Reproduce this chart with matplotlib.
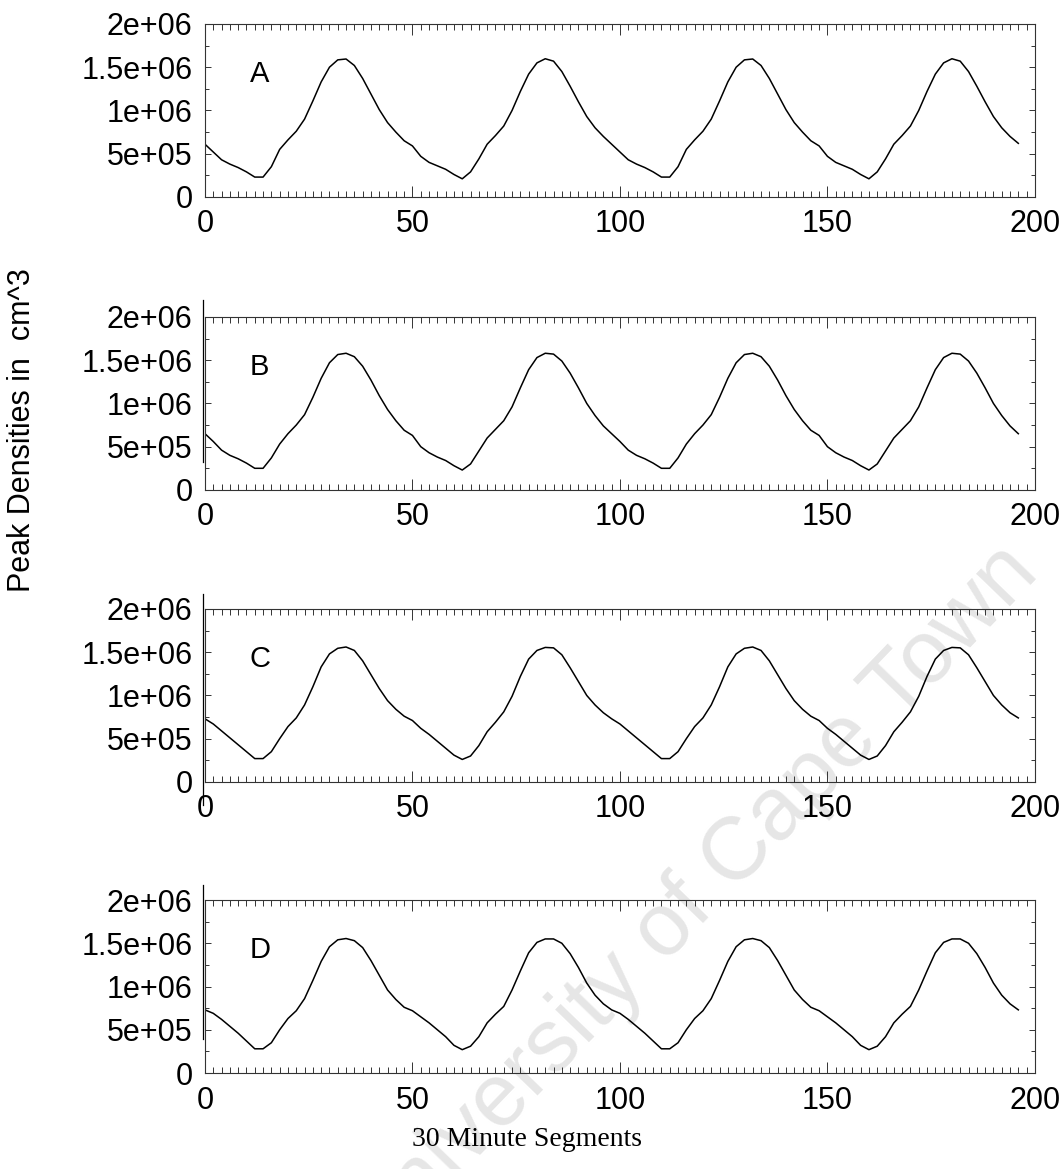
import numpy as np
import matplotlib
matplotlib.use('Agg')
import matplotlib.pyplot as plt
from matplotlib.ticker import MultipleLocator, FuncFormatter
from matplotlib.lines import Line2D

# 30 minute segments, sampled every 2nd segment (0 .. 196)
segments = np.arange(0, 197, 2)

# peak densities, in units of 1e6 per cm^3
panel_a = [0.61, 0.52, 0.43, 0.38, 0.34, 0.29, 0.23,
           0.23, 0.35, 0.55, 0.66, 0.76, 0.90, 1.11, 1.33, 1.50, 1.585, 1.595, 1.52,
           1.37, 1.19, 1.01, 0.86, 0.75, 0.65, 0.59, 0.47, 0.40, 0.36, 0.32, 0.26,
           0.21, 0.29, 0.44, 0.61, 0.71, 0.82, 1.00, 1.22, 1.42, 1.55, 1.598, 1.57, 1.45,
           1.28, 1.10, 0.93, 0.80, 0.70, 0.61, 0.52, 0.43, 0.38, 0.34, 0.29, 0.23,
           0.23, 0.35, 0.55, 0.66, 0.76, 0.90, 1.11, 1.33, 1.50, 1.585, 1.595, 1.52,
           1.37, 1.19, 1.01, 0.86, 0.75, 0.65, 0.59, 0.47, 0.40, 0.36, 0.32, 0.26,
           0.21, 0.29, 0.44, 0.61, 0.71, 0.82, 1.00, 1.22, 1.42, 1.55, 1.598, 1.57, 1.45,
           1.28, 1.10, 0.93, 0.80, 0.70, 0.62]

panel_b = [0.65, 0.56, 0.46, 0.40, 0.36, 0.31, 0.25,
           0.25, 0.37, 0.53, 0.65, 0.75, 0.87, 1.07, 1.29, 1.47, 1.565, 1.58, 1.54,
           1.43, 1.27, 1.09, 0.93, 0.80, 0.69, 0.63, 0.50, 0.43, 0.38, 0.34, 0.28,
           0.23, 0.30, 0.45, 0.60, 0.70, 0.80, 0.96, 1.18, 1.39, 1.53, 1.58, 1.57, 1.49,
           1.35, 1.18, 1.00, 0.86, 0.74, 0.65, 0.56, 0.46, 0.40, 0.36, 0.31, 0.25,
           0.25, 0.37, 0.53, 0.65, 0.75, 0.87, 1.07, 1.29, 1.47, 1.565, 1.58, 1.54,
           1.43, 1.27, 1.09, 0.93, 0.80, 0.69, 0.63, 0.50, 0.43, 0.38, 0.34, 0.28,
           0.23, 0.30, 0.45, 0.60, 0.70, 0.80, 0.96, 1.18, 1.39, 1.53, 1.58, 1.57, 1.49,
           1.35, 1.18, 1.00, 0.86, 0.74, 0.65]

panel_c = [0.73, 0.67, 0.59, 0.51, 0.43, 0.35, 0.27,
           0.27, 0.35, 0.50, 0.64, 0.74, 0.89, 1.10, 1.33, 1.48, 1.545, 1.56, 1.52,
           1.40, 1.24, 1.08, 0.94, 0.84, 0.76, 0.71, 0.62, 0.55, 0.47, 0.39, 0.31,
           0.26, 0.30, 0.42, 0.58, 0.69, 0.81, 0.99, 1.22, 1.42, 1.52, 1.555, 1.55, 1.47,
           1.32, 1.16, 1.00, 0.89, 0.80, 0.73, 0.67, 0.59, 0.51, 0.43, 0.35, 0.27,
           0.27, 0.35, 0.50, 0.64, 0.74, 0.89, 1.10, 1.33, 1.48, 1.545, 1.56, 1.52,
           1.40, 1.24, 1.08, 0.94, 0.84, 0.76, 0.71, 0.62, 0.55, 0.47, 0.39, 0.31,
           0.26, 0.30, 0.42, 0.58, 0.69, 0.81, 0.99, 1.22, 1.42, 1.52, 1.555, 1.55, 1.47,
           1.32, 1.16, 1.00, 0.89, 0.80, 0.74]

panel_d = [0.73, 0.69, 0.62, 0.54, 0.46, 0.37, 0.28,
           0.28, 0.35, 0.50, 0.63, 0.72, 0.86, 1.07, 1.29, 1.46, 1.54, 1.555, 1.53,
           1.45, 1.30, 1.13, 0.96, 0.85, 0.76, 0.72, 0.65, 0.58, 0.50, 0.42, 0.32,
           0.27, 0.31, 0.42, 0.58, 0.68, 0.77, 0.96, 1.18, 1.39, 1.51, 1.55, 1.55, 1.50,
           1.38, 1.22, 1.04, 0.90, 0.80, 0.73, 0.69, 0.62, 0.54, 0.46, 0.37, 0.28,
           0.28, 0.35, 0.50, 0.63, 0.72, 0.86, 1.07, 1.29, 1.46, 1.54, 1.555, 1.53,
           1.45, 1.30, 1.13, 0.96, 0.85, 0.76, 0.72, 0.65, 0.58, 0.50, 0.42, 0.32,
           0.27, 0.31, 0.42, 0.58, 0.68, 0.77, 0.96, 1.18, 1.39, 1.51, 1.55, 1.55, 1.50,
           1.38, 1.22, 1.04, 0.90, 0.80, 0.73]

panel_names = ['A', 'B', 'C', 'D']
panels = [panel_a, panel_b, panel_c, panel_d]

plt.rcParams['font.family'] = ['Liberation Sans', 'DejaVu Sans']

fig = plt.figure(figsize=(10.62, 11.69), dpi=100)

bottoms = [0.8315, 0.5809, 0.3311, 0.0821]
for name, vals, b in zip(panel_names, panels, bottoms):
    ax = fig.add_axes([0.193, b, 0.7815, 0.148])
    ax.patch.set_alpha(0)
    ax.plot(segments, np.array(vals) * 1e6, color='black', lw=1.1)
    ax.set_xlim(0, 200)
    ax.set_ylim(0, 2e6)
    ax.xaxis.set_major_locator(MultipleLocator(50))
    ax.xaxis.set_minor_locator(MultipleLocator(2))
    ax.yaxis.set_major_locator(MultipleLocator(5e5))
    ax.yaxis.set_minor_locator(MultipleLocator(2.5e5))
    ax.yaxis.set_major_formatter(FuncFormatter(lambda v, p: '{:.2g}'.format(v)))
    ax.tick_params(which='both', direction='in', top=True, right=True,
                   labelsize=22, width=0.7, color='#333333')
    ax.tick_params(which='major', axis='x', length=8, pad=9)
    ax.tick_params(which='major', axis='y', length=4, pad=9)
    ax.tick_params(which='minor', length=4)
    ax.yaxis.set_tick_params(which='minor', length=3)
    for s in ax.spines.values():
        s.set_linewidth(0.8)
        s.set_color('#333333')
    ax.text(0.066, 0.71, name, transform=ax.transAxes, fontsize=21,
            ha='center', va='center')

fig.text(0.021, 0.632, 'Peak Densities in  cm^3', rotation=90, fontsize=22,
         ha='center', va='center')
fig.text(0.496, 0.025, '30 Minute Segments', fontsize=20, ha='center', va='center',
         family=['Liberation Serif', 'DejaVu Serif'])

# left-hand edges of the pasted panels in the scan
for y0, y1 in [(0.605, 0.743), (0.311, 0.492), (0.111, 0.243)]:
    fig.add_artist(Line2D([0.191, 0.191], [y0, y1], color='black', lw=0.9,
                          transform=fig.transFigure))

# watermark
fig.text(0.652, 0.228, 'University of Cape Town', rotation=46, fontsize=64,
         color='#e6e6e6', ha='center', va='center', rotation_mode='anchor', zorder=-1)

fig.savefig('out.png', dpi=100)
